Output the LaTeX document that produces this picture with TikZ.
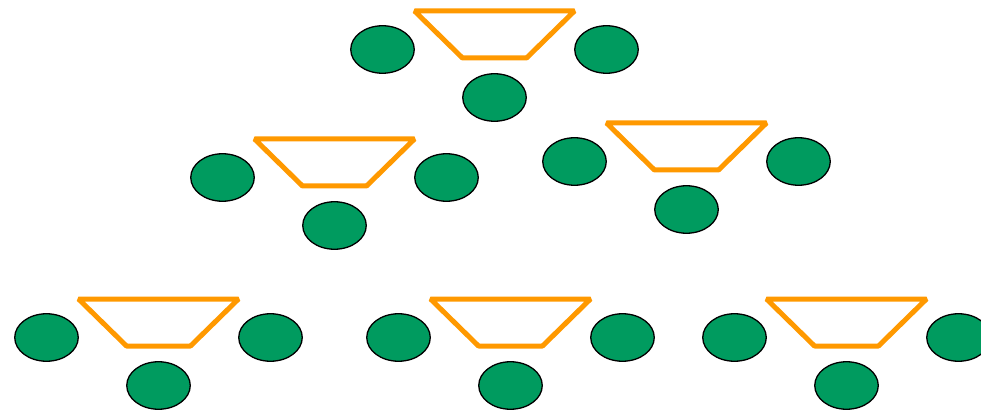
\documentclass[tikz,border=0pt]{standalone}
\usetikzlibrary{shapes.geometric}
\definecolor{ballgreen}{RGB}{0,155,95}
\definecolor{trayorange}{RGB}{255,153,0}
\tikzset{
  ball/.style={ellipse,draw=black,line width=1.3pt,fill=ballgreen,minimum width=63.5pt,minimum height=47.5pt,inner sep=0pt,outer sep=0pt},
  tray/.style={draw=trayorange,line width=5pt,line join=bevel}
}
\begin{document}
\begin{tikzpicture}[x=1pt,y=-1pt]
\useasboundingbox (0,0) rectangle (981,411);
\clip (0,0) rectangle (981,411);
\foreach \n/\cx/\cy in {1/494.5/97.5, 2/334.5/225.5, 3/686.5/209.5, 4/158.5/385.5, 5/510.5/385.5, 6/846.5/385.5}{
  \node[ball] (B\n) at (\cx,\cy) {};
  \node[ball] (L\n) at (\cx-112,\cy-48) {};
  \node[ball] (R\n) at (\cx+112,\cy-48) {};
  \draw[tray] (\cx-80,\cy-86.5) -- (\cx+80,\cy-86.5) -- (\cx+32,\cy-39.5) -- (\cx-32,\cy-39.5) -- cycle;
}
\end{tikzpicture}
\end{document}
